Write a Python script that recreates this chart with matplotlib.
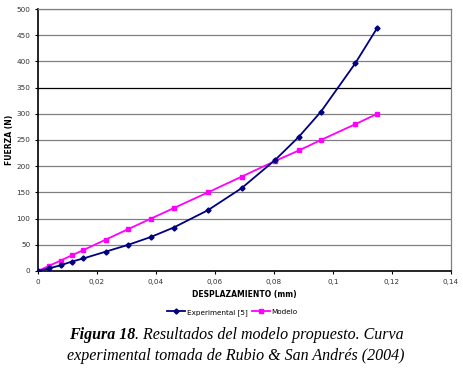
import matplotlib.pyplot as plt
from matplotlib.ticker import FuncFormatter

# desplazamiento (mm) y fuerza (N)
desplazamiento = [0, 0.0038, 0.0077, 0.0115, 0.0154, 0.023, 0.0306, 0.0383,
                  0.046, 0.0576, 0.069, 0.0804, 0.0884, 0.0959, 0.1075, 0.115]
fuerza_exp = [0, 5, 11, 18, 24, 37, 50, 65, 83, 116, 158, 212, 256, 304, 396, 464]
fuerza_modelo = [0, 10, 20, 30, 40, 60, 80, 100, 120, 150, 180, 210, 230, 250, 280, 300]

x_ticks = [0, 0.02, 0.04, 0.06, 0.08, 0.1, 0.12, 0.14]
y_ticks = list(range(0, 501, 50))

fig = plt.figure(figsize=(4.63, 3.69), dpi=100)
ax = fig.add_axes([0.0821, 0.2656, 0.892, 0.71])

for y in y_ticks[1:]:
    ax.axhline(y, color='black' if y == 350 else '#808080', lw=0.9, zorder=0)

ax.plot(desplazamiento, fuerza_exp, color='#000080', lw=1.3, marker='D',
        ms=2.6, label='Experimental [5]', zorder=3)
ax.plot(desplazamiento, fuerza_modelo, color='#ff00ff', lw=1.3, marker='s',
        ms=3, label='Modelo', zorder=2)

ax.set_xlim(0, 0.14)
ax.set_ylim(0, 500)
ax.set_xticks(x_ticks)
ax.set_yticks(y_ticks)
ax.xaxis.set_major_formatter(FuncFormatter(lambda v, p: ('%g' % round(v, 2)).replace('.', ',')))
ax.tick_params(labelsize=5.2, labelcolor='#333333', length=2.5, width=0.8, pad=3)

for s in ['top', 'right']:
    ax.spines[s].set_color('#808080')
    ax.spines[s].set_linewidth(0.9)
for s in ['left', 'bottom']:
    ax.spines[s].set_linewidth(1.2)

ax.set_xlabel('DESPLAZAMIENTO (mm)', fontsize=5.5, fontweight='bold', labelpad=4)
ax.set_ylabel('FUERZA (N)', fontsize=5.5, fontweight='bold', labelpad=1.5)

ax.legend(loc='upper center', bbox_to_anchor=(0.47, -0.12), ncol=2, frameon=False,
          fontsize=5.2, handlelength=2.5, columnspacing=0.6, handletextpad=0.2)

# pie de figura: "Figura 18" en negrita cursiva, el resto en cursiva
cap_font = dict(fontsize=11.5, family='Liberation Serif', style='italic', va='center')
t1 = fig.text(0, 0.092, 'Figura 18', fontweight='bold', **cap_font)
t2 = fig.text(0, 0.092, '. Resultados del modelo propuesto. Curva', **cap_font)
fig.text(0.51, 0.035, 'experimental tomada de Rubio & San Andrés (2004)', ha='center', **cap_font)

r = fig.canvas.get_renderer()
w1 = t1.get_window_extent(r).width
w2 = t2.get_window_extent(r).width
x0 = 0.51 * fig.bbox.width - (w1 + w2) / 2
t1.set_x(x0 / fig.bbox.width)
t2.set_x((x0 + w1) / fig.bbox.width)

fig.savefig('out.png', dpi=100)
